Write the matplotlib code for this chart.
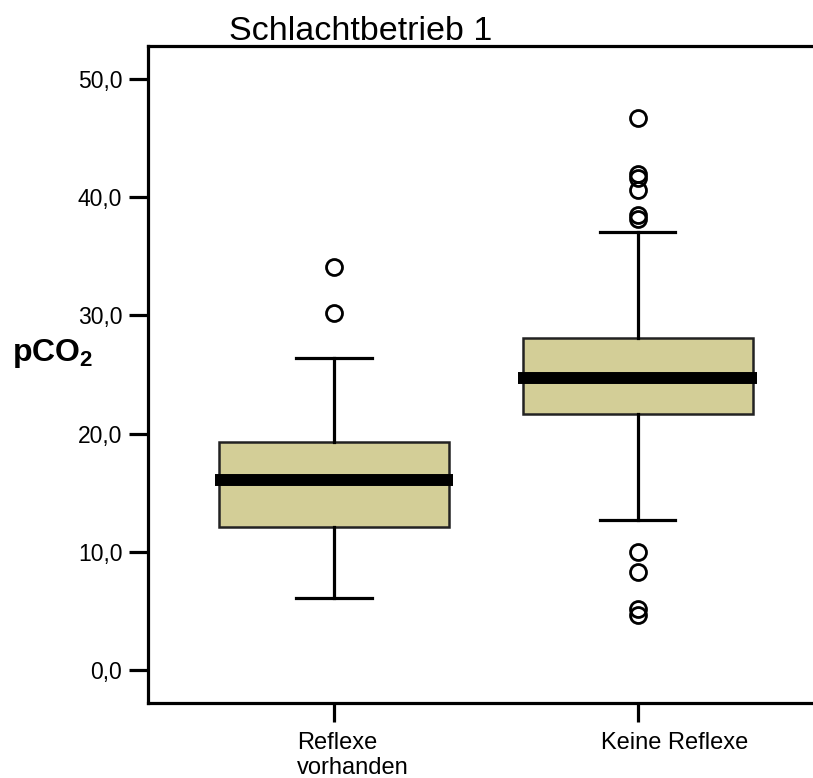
import matplotlib
matplotlib.use("Agg")
import matplotlib.pyplot as plt
from matplotlib.ticker import FuncFormatter
from matplotlib.transforms import ScaledTranslation

plt.rcParams["font.family"] = ["Liberation Sans", "DejaVu Sans"]
plt.rcParams["mathtext.fontset"] = "custom"
plt.rcParams["mathtext.rm"] = "Liberation Sans"
plt.rcParams["mathtext.bf"] = "Liberation Sans:bold"

# Daten
gruppen = ["Reflexe\nvorhanden", "Keine Reflexe"]
whis_unten = [6.1, 12.7]
q1 = [12.07, 21.63]
median = [16.07, 24.68]
q3 = [19.32, 28.11]
whis_oben = [26.37, 37.08]
ausreisser = [
    [30.18, 34.12],
    [46.67, 41.96, 41.6, 40.61, 38.49, 38.13, 9.96, 8.32, 5.15, 4.68],
]
y_ticks = [0, 10, 20, 30, 40, 50]

stats = []
for i in range(len(gruppen)):
    stats.append({
        "whislo": whis_unten[i], "q1": q1[i], "med": median[i],
        "q3": q3[i], "whishi": whis_oben[i], "fliers": ausreisser[i],
    })

fig = plt.figure(figsize=(8.13, 7.78), dpi=100)
ax = fig.add_axes([148 / 813, 1 - 702.7 / 778, 1 - 148 / 813, (702.7 - 46) / 778])

pos = [1, 2]
ax.bxp(
    stats, positions=pos, widths=0.757, patch_artist=True,
    capwidths=0.247,
    boxprops=dict(facecolor="#d3ce97", edgecolor="#222222", linewidth=1.8),
    whiskerprops=dict(color="black", linewidth=2.3),
    capprops=dict(color="black", linewidth=2.3),
    medianprops=dict(linewidth=0),
    flierprops=dict(marker="o", markersize=11.5, markerfacecolor="none",
                    markeredgecolor="black", markeredgewidth=2.0),
)
# dicker Median, etwas breiter als die Box
ax.hlines(median, [p - 0.393 for p in pos], [p + 0.393 for p in pos],
          colors="black", linewidth=8.6, capstyle="butt", zorder=3)

ax.set_xlim(0.388, 2.576)
ax.set_ylim(-2.77, 52.8)

ax.spines["right"].set_visible(False)
for s in ["left", "top", "bottom"]:
    ax.spines[s].set_linewidth(2.3)

ax.set_yticks(y_ticks)
ax.yaxis.set_major_formatter(FuncFormatter(lambda v, p: f"{v:.1f}".replace(".", ",")))
ax.tick_params(axis="y", length=13.5, width=2.3, labelsize=16.5, pad=5)

ax.set_xticks(pos)
ax.set_xticklabels(gruppen, ha="left", fontsize=17, linespacing=1.2)
ax.tick_params(axis="x", length=14, width=2.3, pad=7)
for lab in ax.get_xticklabels():
    lab.set_transform(lab.get_transform() + ScaledTranslation(-0.37, 0, fig.dpi_scale_trans))

fig.text(361 / 813, 1 - 40 / 778, "Schlachtbetrieb 1", ha="center", va="baseline", fontsize=24.5)
fig.text(12 / 813, 1 - 353 / 778, r"$\mathbf{pCO_2}$", ha="left", va="center", fontsize=23)

fig.savefig("out.png", dpi=100)
